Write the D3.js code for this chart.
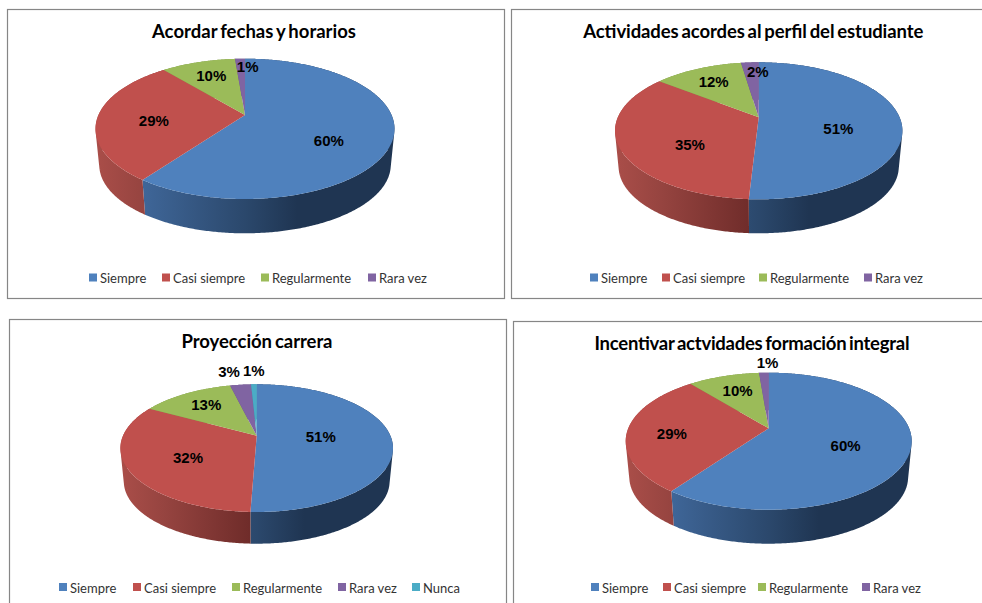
<!DOCTYPE html>
<meta charset="utf-8">
<style type="text/css">
body { margin: 0; background: #fff; }
svg { display: block; }
.title { font: bold 18.5px Lato, sans-serif; fill: #000; text-anchor: middle; word-spacing: -1.5px; }
.label { font: bold 15px "Liberation Sans", sans-serif; fill: #000; text-anchor: middle; dominant-baseline: central; }
.legend { font: 13px Lato, sans-serif; fill: #333; }
.frame { fill: #fff; stroke: #868686; stroke-width: 1.2; }
</style>
<body>
<script src="https://cdn.jsdelivr.net/npm/d3@7/dist/d3.min.js"></script>
<script type="text/javascript">

var categories = ["Siempre", "Casi siempre", "Regularmente", "Rara vez", "Nunca"];
var titles = ["Acordar fechas y horarios", "Actividades acordes al perfil del estudiante", "Proyección carrera", "Incentivar actvidades formación integral"];
var valuesFechas = [60, 29, 9.7, 1.3];
var valuesPerfil = [50.9, 34.6, 12.1, 2.4];
var valuesCarrera = [50.6, 32.4, 13.2, 3.0, 0.8];
var valuesFormacion = [60, 29, 9.7, 1.3];
var colors = ["#4f81bd", "#c0504d", "#9bbb59", "#8064a2", "#4bacc6"];

// layout of each chart, measured off the page
var panels = [
  {values: valuesFechas, title: titles[0], frame: [7.5, 9.5, 497, 289], titleAt: [254, 38], titleW: 204,
   apex: [245, 115], halfW: 149.5, back: 58.7, front: 199, bottom: 233.3,
   legendY: 273.5, legendX: [89, 162, 261, 368],
   nudge: [[-6, 12], [0, 4], [-3, -5], [6, -11]]},
  {values: valuesPerfil, title: titles[1], frame: [511.5, 9.5, 500, 289], titleAt: [753.3, 38], titleW: 340,
   apex: [758.7, 117.3], halfW: 143.7, back: 62.3, front: 199.3, bottom: 233.3,
   legendY: 273.5, legendX: [590, 662, 759, 864],
   nudge: [[-8, 10], [15, 9], [-5, -4], [5, -10]]},
  {values: valuesCarrera, title: titles[2], frame: [9.5, 319.5, 497, 300], titleAt: [257, 348], titleW: 151,
   apex: [256.7, 435.7], halfW: 136.3, back: 384.3, front: 512, bottom: 543.7,
   legendY: 583, legendX: [59, 133, 232, 338, 412],
   nudge: [[-19, 0], [8, 2], [-4.5, -4], [-17, -31], [-1, -31]]},
  {values: valuesFormacion, title: titles[3], frame: [513.5, 321.5, 500, 300], titleAt: [752, 350], titleW: 315,
   apex: [768.7, 428.3], halfW: 143, back: 372.7, front: 509.7, bottom: 543.7,
   legendY: 583, legendX: [591, 663, 758, 862],
   nudge: [[-9, 4], [-9.5, 4], [-1.5, -4], [2, -29]]}
];

var svg = d3.select("body").append("svg")
  .attr("width", 982)
  .attr("height", 603);

var defs = svg.append("defs");
var color = d3.scaleOrdinal().domain(categories).range(colors);
var pie = d3.pie().sort(null).startAngle(0).endAngle(2 * Math.PI);
var line = d3.line();
var percent = d3.format(".0%");
var rimScale = 0.975;

// side wall shading, by position across the pie (-1 left edge, 1 right edge)
var sideStops = {
  "Siempre": [[-1, "#4a77ad"], [-0.68, "#3f6698"], [0, "#2b486c"], [0.35, "#1f3552"], [1, "#1f3552"]],
  "Casi siempre": [[-1, "#aa4e49"], [-0.68, "#964440"], [0, "#6c2a28"], [1, "#6c2a28"]],
  "Regularmente": [[-1, "#7d974a"], [1, "#7d974a"]],
  "Rara vez": [[-1, "#665082"], [1, "#665082"]],
  "Nunca": [[-1, "#3c8a9e"], [1, "#3c8a9e"]]
};

panels.forEach(function(p, pi) {
  var g = svg.append("g");

  g.append("rect")
    .attr("class", "frame")
    .attr("x", p.frame[0])
    .attr("y", p.frame[1])
    .attr("width", p.frame[2])
    .attr("height", p.frame[3]);

  g.append("text")
    .attr("class", "title")
    .attr("x", p.titleAt[0])
    .attr("y", p.titleAt[1])
    .attr("textLength", p.titleW)
    .attr("lengthAdjust", "spacing")
    .text(p.title);

  // tilted circle: rim points go through a perspective map, so the slice
  // centre sits above the middle of the ellipse like in the original
  var upper = p.apex[1] - p.back,
      lower = p.front - p.apex[1],
      k = (lower - upper) / (lower + upper),
      B = upper * (1 + k),
      A = p.halfW * Math.sqrt(1 - k * k),
      sideY = p.bottom - rimScale * lower;

  function flat(angle, r) {
    var u = r * Math.sin(angle),
        v = -r * Math.cos(angle),
        d = 1 - k * v;
    return [A * u / d, B * v / d];
  }
  function top(angle, r) {
    var q = flat(angle, r);
    return [p.apex[0] + q[0], p.apex[1] + q[1]];
  }
  function base(angle) {
    var q = flat(angle, 1);
    return [p.apex[0] + rimScale * q[0], sideY + rimScale * q[1]];
  }

  var arcs = pie(p.values);

  function rim(d) {
    var n = Math.max(2, Math.ceil((d.endAngle - d.startAngle) / 0.01));
    return d3.range(n + 1).map(function(i) {
      return d.startAngle + (d.endAngle - d.startAngle) * i / n;
    });
  }

  arcs.forEach(function(d, i) {
    var id = "side" + pi + "-" + i;
    var grad = defs.append("linearGradient")
      .attr("id", id)
      .attr("gradientUnits", "userSpaceOnUse")
      .attr("x1", p.apex[0] - p.halfW)
      .attr("x2", p.apex[0] + p.halfW)
      .attr("y1", 0)
      .attr("y2", 0);
    grad.selectAll("stop")
      .data(sideStops[categories[i]])
      .enter().append("stop")
      .attr("offset", function(s) { return (s[0] + 1) / 2; })
      .attr("stop-color", function(s) { return s[1]; });
  });

  // wall is a strip of small quads so the vertical edge at the widest point is filled too.
  // the strip folds over at that edge, so every quad gets the same winding or they cancel out
  g.selectAll(".side")
    .data(arcs)
    .enter().append("path")
    .attr("class", "side")
    .attr("fill", function(d, i) { return "url(#side" + pi + "-" + i + ")"; })
    .attr("d", function(d) {
      var a = rim(d), out = "";
      for (var i = 0; i < a.length - 1; i++) {
        var quad = [top(a[i], 1), top(a[i + 1], 1), base(a[i + 1]), base(a[i])];
        if (d3.polygonArea(quad) < 0) quad.reverse();
        out += line(quad) + "Z";
      }
      return out;
    });

  g.selectAll(".slice")
    .data(arcs)
    .enter().append("path")
    .attr("class", "slice")
    .attr("fill", function(d, i) { return color(categories[i]); })
    .attr("d", function(d) {
      return line([p.apex].concat(rim(d).map(function(t) { return top(t, 1); }))) + "Z";
    });

  g.selectAll(".label")
    .data(arcs)
    .enter().append("text")
    .attr("class", "label")
    .attr("x", function(d, i) { return top((d.startAngle + d.endAngle) / 2, 0.62)[0] + p.nudge[i][0]; })
    .attr("y", function(d, i) { return top((d.startAngle + d.endAngle) / 2, 0.62)[1] + p.nudge[i][1]; })
    .text(function(d) { return percent(d.value / 100); });

  var legend = g.selectAll(".item")
    .data(p.values.map(function(v, i) { return categories[i]; }))
    .enter().append("g")
    .attr("class", "item")
    .attr("transform", function(d, i) { return "translate(" + p.legendX[i] + "," + p.legendY + ")"; });

  legend.append("rect")
    .attr("width", 8)
    .attr("height", 8)
    .attr("fill", function(d) { return color(d); });

  legend.append("text")
    .attr("class", "legend")
    .attr("x", 11)
    .attr("y", 9.5)
    .text(function(d) { return d; });
});

</script>
</body>
